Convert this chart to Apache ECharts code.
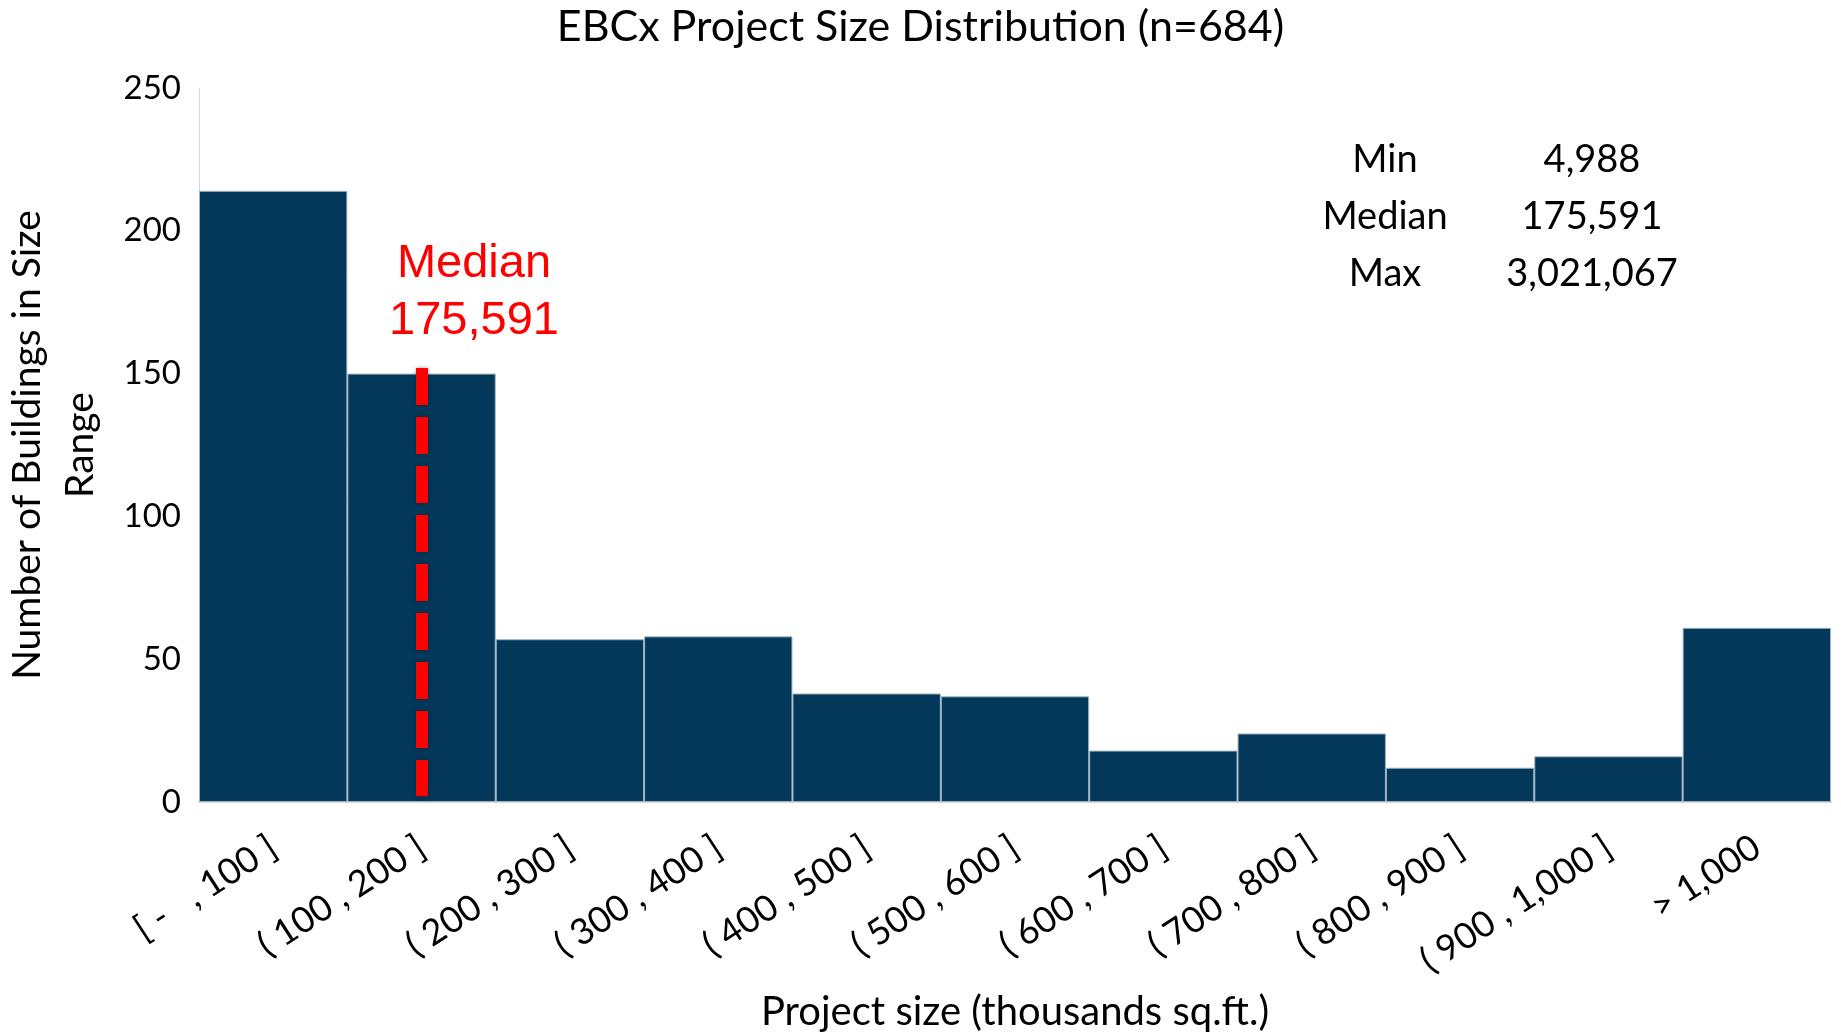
<!DOCTYPE html>
<html>
<head>
<meta charset="utf-8">
<title>EBCx Project Size Distribution</title>
<script src="https://cdn.jsdelivr.net/npm/echarts@6/dist/echarts.min.js"></script>
<style>
  html, body { margin: 0; padding: 0; background: #fff; }
  #main { width: 1841px; height: 1035px; }
</style>
</head>
<body>
<div id="main"></div>
<script>
// size ranges (thousands sq.ft.)
var categories = [
  "[ -   , 100 ]", "( 100 , 200 ]", "( 200 , 300 ]", "( 300 , 400 ]",
  "( 400 , 500 ]", "( 500 , 600 ]", "( 600 , 700 ]", "( 700 , 800 ]",
  "( 800 , 900 ]", "( 900 , 1,000 ]", "> 1,000"
];
// number of buildings per range
var counts = [214, 150, 57, 58, 38, 37, 18, 24, 12, 16, 61];
var yTicks = [0, 50, 100, 150, 200, 250];

// median marker: category it sits in, and its vertical span
var medianCategory = "( 100 , 200 ]";
var medianSpan = [2, 152];
var medianText = ["Median", "175,591"];

// summary table
var statNames = ["Min", "Median", "Max"];
var statValues = ["4,988", "175,591", "3,021,067"];

var FONT = "Lato, 'Open Sans', sans-serif";

var chartInstance = echarts.init(document.getElementById("main"));

// 右上角统计表
function statsGraphic() {
  var items = [];
  for (var i = 0; i < statNames.length; i++) {
    var y = 160 + i * 57;
    items.push({
      type: "text",
      style: {
        text: statNames[i], x: 1385, y: y,
        font: "38px " + FONT, fill: "#000",
        textAlign: "center", textVerticalAlign: "middle"
      }
    });
    items.push({
      type: "text",
      style: {
        text: statValues[i], x: 1592, y: y,
        font: "38px " + FONT, fill: "#000",
        textAlign: "center", textVerticalAlign: "middle"
      }
    });
  }
  return items;
}

function setChartOption() {
  chartInstance.setOption({
    animation: false,
    backgroundColor: "#fff",
    title: {
      text: "EBCx Project Size Distribution (n=684)",
      left: "center",
      top: 1,
      textStyle: { color: "#000", fontSize: 43, fontWeight: "normal", fontFamily: FONT }
    },
    grid: {
      left: 199, right: 10, top: 88, bottom: 233,
      containLabel: false,
      outerBoundsMode: "none"
    },
    xAxis: {
      type: "category",
      data: categories,
      name: "Project size (thousands sq.ft.)",
      nameLocation: "middle",
      nameGap: 190,
      nameTextStyle: { color: "#000", fontSize: 40, fontFamily: FONT },
      axisLine: { lineStyle: { color: "#d9d9d9", width: 2 } }, //坐标轴线颜色
      axisTick: { show: false },
      axisLabel: {
        rotate: 33,
        margin: 42,
        interval: 0,
        color: "#000",
        fontSize: 36,
        fontFamily: FONT
      }
    },
    yAxis: {
      type: "value",
      min: yTicks[0],
      max: yTicks[yTicks.length - 1],
      interval: yTicks[1] - yTicks[0],
      name: "Number of Buildings in Size\nRange",
      nameLocation: "middle",
      nameRotate: 90,
      nameGap: 92,
      nameTextStyle: { color: "#000", fontSize: 39, lineHeight: 53, fontFamily: FONT, align: "center" },
      axisLine: { show: true, lineStyle: { color: "#d9d9d9", width: 1 } },
      axisTick: { show: false },
      splitLine: { show: false },
      axisLabel: { color: "#000", fontSize: 33, margin: 18, fontFamily: FONT }
    },
    series: [
      {
        name: "Buildings",
        type: "bar",
        data: counts,
        barCategoryGap: "0%",
        itemStyle: { color: "#03385a", borderColor: "#9fb3c1", borderWidth: 1 },
        markLine: {
          silent: true,
          symbol: ["none", "none"],
          label: { show: false },
          lineStyle: {
            color: "#ff0000", width: 12, type: [37, 12],
            shadowBlur: 4, shadowColor: "rgba(0,0,0,0.35)"
          },
          data: [[
            { coord: [medianCategory, medianSpan[1]] },
            { coord: [medianCategory, medianSpan[0]] }
          ]]
        }
      }
    ],
    graphic: [
      {
        type: "text",
        style: {
          text: medianText.join("\n"), x: 474, y: 293,
          font: "47px 'Liberation Sans', Arial, sans-serif",
          lineHeight: 57, fill: "#ff0000",
          textAlign: "center", textVerticalAlign: "middle"
        }
      }
    ].concat(statsGraphic())
  });
}

setChartOption();
window.addEventListener("resize", function () {
  chartInstance.resize();
});
</script>
</body>
</html>
